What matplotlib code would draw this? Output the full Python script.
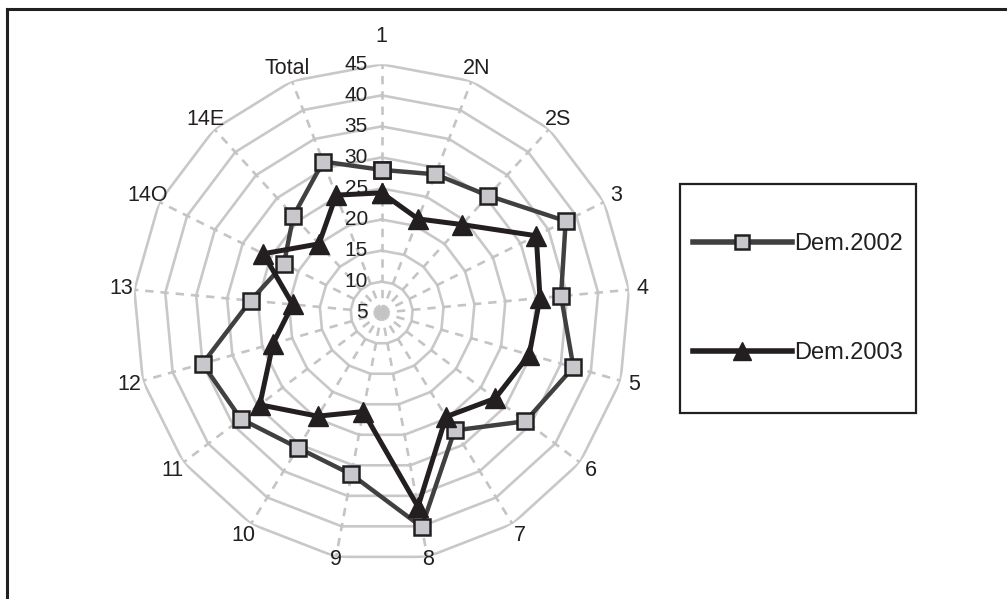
import numpy as np
import matplotlib
matplotlib.use("Agg")
import matplotlib.pyplot as plt
from matplotlib.lines import Line2D
from matplotlib.patches import Rectangle

# Radar chart: Dem.2002 vs Dem.2003 per zone
categories = ["1", "2N", "2S", "3", "4", "5", "6", "7", "8", "9",
              "10", "11", "12", "13", "14O", "14E", "Total"]
dem_2002 = [28.0, 28.9, 30.5, 38.1, 34.0, 37.1, 34.0, 27.3, 40.1,
            31.5, 30.6, 33.4, 35.0, 26.2, 22.6, 26.1, 31.1]
dem_2003 = [24.3, 21.2, 24.2, 32.8, 30.6, 29.7, 27.9, 24.7, 36.8,
            21.2, 24.6, 29.6, 23.2, 19.4, 26.3, 20.0, 25.3]
r_ticks = [5, 10, 15, 20, 25, 30, 35, 40, 45]
series_names = ["Dem.2002", "Dem.2003"]

plt.rcParams["font.family"] = ["Liberation Sans", "DejaVu Sans"]
plt.rcParams["lines.scale_dashes"] = False

INK = "#231f20"
GRID = "#c8c8c8"

W, H = 1007, 599
fig = plt.figure(figsize=(W / 100, H / 100), dpi=100)
cx, cy, R = 381.7, 312.7, 248.4
ax = fig.add_axes([(cx - R) / W, (H - cy - R) / H, 2 * R / W, 2 * R / H],
                  projection="polar")
ax.set_theta_zero_location("N")
ax.set_theta_direction(-1)
r_min, r_max = r_ticks[0], r_ticks[-1]
ax.set_ylim(r_min, r_max)
ax.grid(False)
ax.set_xticks([])
ax.set_yticks([])
ax.spines["polar"].set_visible(False)
ax.patch.set_alpha(0)

n = len(categories)
theta = np.arange(n) * 2 * np.pi / n
theta_c = np.append(theta, theta[0])


def px_to_r(px):
    return r_min + px * (r_max - r_min) / R


# polygon rings + dashed spokes
for v in r_ticks[1:]:
    ax.plot(theta_c, [v] * (n + 1), color=GRID, lw=1.9, zorder=1)
for t in theta:
    ax.plot([t, t], [r_min, r_max], color="#c4c4c4", lw=1.9,
            ls=(0, (6, 5)), zorder=1)

# radial tick labels along the top spoke
for v in r_ticks:
    ax.annotate(str(v), xy=(0, v), xytext=(-10, 0), textcoords="offset points",
                ha="right", va="center", fontsize=15, color=INK, zorder=2)

# category labels
for t, lab in zip(theta, categories):
    c = np.cos(t)
    if c > 0.99:
        rp = 276
    elif c < -0.95:
        rp = 251
    else:
        rp = 262
    ax.text(t, px_to_r(rp), lab, ha="center", va="center", fontsize=15.5,
            color=INK, clip_on=False)

d02 = np.append(dem_2002, dem_2002[0])
d03 = np.append(dem_2003, dem_2003[0])
ax.plot(theta_c, d02, color="#404040", lw=3.2, marker="s", ms=11.5,
        mfc="#c8c8cc", mec=INK, mew=1.8, zorder=3, clip_on=False)
ax.plot(theta_c, d03, color=INK, lw=3.6, marker="^", ms=15,
        mfc=INK, mec=INK, mew=1, zorder=4, clip_on=False)

# legend in its own box
handles = [
    Line2D([], [], color="#404040", lw=4, marker="s", ms=10,
           mfc="#c8c8cc", mec=INK, mew=1.8),
    Line2D([], [], color=INK, lw=4, marker="^", ms=13, mfc=INK, mec=INK),
]
fig.legend(handles, series_names, loc="center",
           bbox_to_anchor=(798 / W, 1 - 298.5 / H), frameon=False,
           handlelength=4.2, handletextpad=0.1, labelspacing=3.7,
           fontsize=17, borderpad=0, labelcolor=INK)
fig.add_artist(Rectangle((680 / W, 1 - 413 / H), 236 / W, 229 / H,
                         transform=fig.transFigure, fill=False, lw=1.6,
                         ec=INK))

# outer frame (top and left edges only are visible)
fig.add_artist(Line2D([7 / W, 1], [1 - 9 / H, 1 - 9 / H],
                      transform=fig.transFigure, color=INK, lw=2.2))
fig.add_artist(Line2D([7 / W, 7 / W], [0, 1 - 9 / H],
                      transform=fig.transFigure, color=INK, lw=2.2))

fig.savefig("out.png", dpi=100)
